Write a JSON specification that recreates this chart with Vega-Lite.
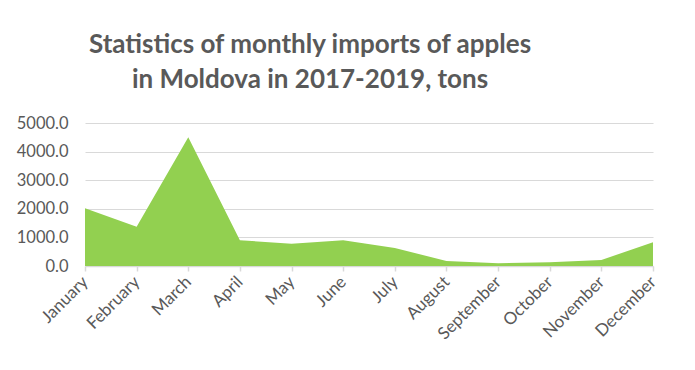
{
  "$schema": "https://vega.github.io/schema/vega-lite/v6.json",
  "width": 568,
  "height": 143,
  "autosize": "none",
  "padding": {"left": 85, "top": 123, "right": 42, "bottom": 104},
  "background": "white",
  "title": {
    "text": ["Statistics of monthly imports of apples", "in Moldova in 2017-2019, tons"],
    "font": "Lato",
    "fontSize": 26,
    "fontWeight": "bold",
    "color": "#595959",
    "anchor": "middle",
    "dx": -59,
    "offset": 22,
    "lineHeight": 35
  },
  "data": {
    "values": [
      {"month": "January", "tons": 2020},
      {"month": "February", "tons": 1375},
      {"month": "March", "tons": 4500},
      {"month": "April", "tons": 900},
      {"month": "May", "tons": 780},
      {"month": "June", "tons": 900},
      {"month": "July", "tons": 630},
      {"month": "August", "tons": 175},
      {"month": "September", "tons": 95},
      {"month": "October", "tons": 130},
      {"month": "November", "tons": 210},
      {"month": "December", "tons": 830}
    ]
  },
  "mark": {"type": "area", "color": "#92D050", "opacity": 1},
  "encoding": {
    "x": {
      "field": "month",
      "type": "ordinal",
      "sort": null,
      "scale": {"type": "point", "padding": 0},
      "axis": {
        "title": null,
        "labelAngle": -45,
        "labelAlign": "right",
        "labelBaseline": "middle",
        "labelFont": "Lato",
        "labelFontSize": 17,
        "labelColor": "#595959",
        "labelPadding": 8,
        "domainColor": "#d9d9d9",
        "domainWidth": 1.5,
        "tickColor": "#d9d9d9",
        "tickSize": 5,
        "tickWidth": 1.5,
        "grid": false
      }
    },
    "y": {
      "field": "tons",
      "type": "quantitative",
      "scale": {"domain": [0, 5000], "nice": false},
      "axis": {
        "title": null,
        "values": [0, 1000, 2000, 3000, 4000, 5000],
        "format": ".1f",
        "domain": false,
        "ticks": false,
        "grid": true,
        "gridColor": "#d9d9d9",
        "gridWidth": 1.2,
        "labelFont": "Lato",
        "labelFontSize": 16.5,
        "labelColor": "#595959",
        "labelPadding": 17
      }
    }
  },
  "config": {"view": {"stroke": null}}
}
